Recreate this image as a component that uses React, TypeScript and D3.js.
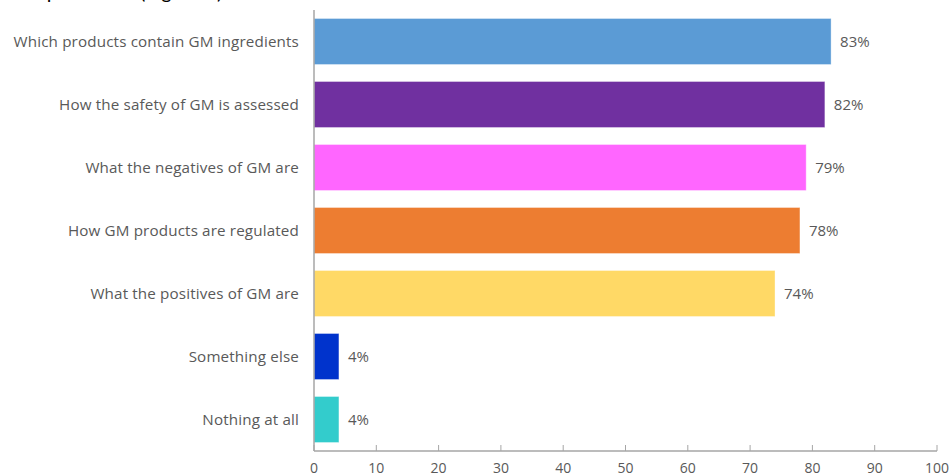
import React from "react";
import * as d3 from "d3";

const categories = [
  "Which products contain GM ingredients",
  "How the safety of GM is assessed",
  "What the negatives of GM are",
  "How GM products are regulated",
  "What the positives of GM are",
  "Something else",
  "Nothing at all",
];
const values = [83, 82, 79, 78, 74, 4, 4];
const colors = ["#5B9BD5", "#7030A0", "#FF66FF", "#ED7D31", "#FFD966", "#0033CC", "#33CCCC"];
const ticks = [0, 10, 20, 30, 40, 50, 60, 70, 80, 90, 100];

const W = 951;
const H = 476;
const FONT = "'Open Sans', Lato, sans-serif";
const TEXT = "#595959";

export default function App() {
  const x = d3.scaleLinear().domain([0, 100]).range([314, 937]);
  const y = d3
    .scaleBand<string>()
    .domain(categories)
    .range([10, 451])
    .paddingInner(0.27)
    .paddingOuter(0.135);
  const axisY = 451;
  return (
    <svg
      width={W}
      height={H}
      style={{ position: "absolute", left: 0, top: 0, background: "#fff" }}
      fontFamily={FONT}
    >
      <text x={26} y={-1} fontSize={20} fill="#000" fontFamily="Lato, sans-serif">
        Top answers (Figure 5)
      </text>
      {categories.map((c, i) => {
        const yy = y(c)!;
        const bw = y.bandwidth();
        return (
          <g key={c}>
            <rect
              x={x(0)}
              y={yy}
              width={x(values[i]) - x(0)}
              height={bw}
              fill={colors[i]}
              stroke="#ffffff"
              strokeOpacity={0.35}
              strokeWidth={1}
            />
            <text
              x={299}
              y={yy + bw / 2}
              dy="0.35em"
              textAnchor="end"
              fontSize={15.2}
              letterSpacing={0.15}
              fill={TEXT}
            >
              {c}
            </text>
            <text
              x={x(values[i]) + 9}
              y={yy + bw / 2}
              dy="0.35em"
              fontSize={15}
              fill={TEXT}
            >
              {values[i]}%
            </text>
          </g>
        );
      })}
      <line x1={x(0)} x2={x(0)} y1={10} y2={axisY} stroke="#A6A6A6" strokeWidth={1.5} />
      <line x1={x(0)} x2={x(100)} y1={axisY} y2={axisY} stroke="#A6A6A6" strokeWidth={1.5} />
      {ticks.map((t) => (
        <g key={t}>
          <line x1={x(t)} x2={x(t)} y1={axisY} y2={axisY - 6} stroke="#A6A6A6" strokeWidth={1} />
          <text x={x(t)} y={473} textAnchor="middle" fontSize={14} fill={TEXT}>
            {t}
          </text>
        </g>
      ))}
    </svg>
  );
}
